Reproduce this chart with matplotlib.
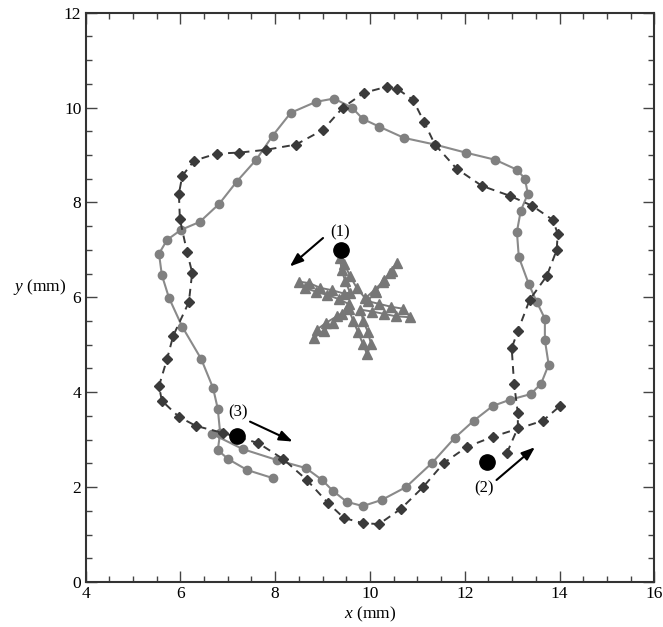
import matplotlib
matplotlib.use("Agg")
import matplotlib.pyplot as plt
from matplotlib.ticker import MultipleLocator

plt.rcParams['font.family'] = ['Liberation Serif', 'DejaVu Serif']
plt.rcParams['mathtext.fontset'] = 'custom'
plt.rcParams['mathtext.it'] = 'Liberation Serif:italic'
plt.rcParams['mathtext.rm'] = 'Liberation Serif'

# Path (3): grey circles, solid line
circ_x = [6.67, 7.32, 8.04, 8.65, 8.99, 9.22, 9.51, 9.85, 10.25, 10.76, 11.31, 11.79,
          12.19, 12.59, 12.95, 13.39, 13.61, 13.77, 13.69, 13.69, 13.52, 13.35, 13.14,
          13.10, 13.18, 13.33, 13.27, 13.10, 12.64, 12.02, 11.37, 10.72, 10.19, 9.85,
          9.62, 9.24, 8.86, 8.33, 7.95, 7.60, 7.19, 6.82, 6.41, 6.01, 5.72, 5.55, 5.61,
          5.76, 6.04, 6.44, 6.69, 6.79, 6.84, 6.79, 7.01, 7.41, 7.95]
circ_y = [3.12, 2.80, 2.57, 2.40, 2.15, 1.92, 1.69, 1.60, 1.73, 2.00, 2.51, 3.04,
          3.40, 3.71, 3.84, 3.96, 4.18, 4.58, 5.10, 5.55, 5.90, 6.28, 6.85,
          7.38, 7.82, 8.18, 8.50, 8.69, 8.90, 9.05, 9.22, 9.36, 9.60, 9.76,
          10.00, 10.19, 10.12, 9.89, 9.41, 8.90, 8.44, 7.97, 7.59, 7.42, 7.21, 6.92, 6.47,
          5.99, 5.38, 4.70, 4.09, 3.65, 3.14, 2.78, 2.59, 2.36, 2.19]

# Path (2): dark diamonds, dashed line
diam_x = [12.89, 13.12, 13.12, 13.04, 12.99, 13.12, 13.37, 13.73, 13.94, 13.96, 13.86,
          13.42, 12.95, 12.36, 11.83, 11.37, 11.14, 10.91, 10.57, 10.36, 9.87, 9.43,
          9.01, 8.44, 7.81, 7.24, 6.77, 6.29, 6.04, 5.97, 5.99, 6.14, 6.25, 6.18,
          5.85, 5.72, 5.55, 5.61, 5.97, 6.33, 6.90, 7.64, 8.17, 8.67, 9.11, 9.45,
          9.85, 10.19, 10.65, 11.12, 11.56, 12.05, 12.59, 13.65, 14.01]
diam_y = [2.72, 3.25, 3.56, 4.18, 4.93, 5.29, 5.95, 6.45, 7.00, 7.34, 7.63,
          7.93, 8.14, 8.35, 8.71, 9.22, 9.70, 10.16, 10.40, 10.44, 10.31, 10.00,
          9.53, 9.22, 9.11, 9.05, 9.03, 8.88, 8.56, 8.18, 7.65, 6.96, 6.52, 5.90,
          5.19, 4.70, 4.13, 3.82, 3.48, 3.29, 3.14, 2.93, 2.59, 2.15, 1.67, 1.35,
          1.24, 1.22, 1.54, 2.00, 2.51, 2.85, 3.06, 3.40, 3.71]

# Path (1): grey triangles, star pattern
tri_x = [9.37, 9.40, 9.48, 9.58, 9.45, 9.20, 8.95, 8.72, 8.50, 8.62, 8.86, 9.10,
         9.35, 9.55, 9.40, 9.22, 9.03, 8.82, 8.88, 9.07, 9.30, 9.55, 9.65, 9.75,
         9.85, 9.94, 10.02, 9.96, 9.86, 9.80, 10.05, 10.30, 10.55, 10.85, 10.70,
         10.45, 10.20, 9.95, 10.12, 10.27, 10.42, 10.56, 10.46, 10.30, 10.10, 9.90,
         9.72, 9.58, 9.46]
tri_y = [6.82, 6.58, 6.34, 6.10, 6.08, 6.15, 6.20, 6.30, 6.33, 6.20, 6.12, 6.05,
         5.96, 5.86, 5.64, 5.45, 5.30, 5.15, 5.32, 5.46, 5.60, 5.75, 5.50, 5.26,
         5.02, 4.80, 5.02, 5.26, 5.50, 5.74, 5.70, 5.65, 5.60, 5.58, 5.76,
         5.80, 5.86, 5.92, 6.12, 6.32, 6.52, 6.72, 6.55, 6.36, 6.16, 5.98,
         6.20, 6.45, 6.70]

start_x = [9.38, 12.46, 7.19]
start_y = [7.00, 2.52, 3.08]
labels = ['(1)', '(2)', '(3)']
label_x = [9.37, 12.40, 7.22]
label_y = [7.36, 1.98, 3.58]
arrow_from_x = [9.01, 12.67, 7.47]
arrow_from_y = [7.25, 2.15, 3.38]
arrow_to_x = [8.31, 13.48, 8.37]
arrow_to_y = [6.65, 2.84, 2.96]

fig = plt.figure(figsize=(6.63, 6.27), dpi=100)
ax = fig.add_axes([0.129, 0.0718, 0.858, 0.908])

ax.plot(circ_x, circ_y, '-', color='#8a8a8a', lw=1.5, marker='o', ms=6,
        mfc='#808080', mec='#808080', zorder=3)
ax.plot(diam_x, diam_y, '--', color='#3a3a3a', lw=1.4, dashes=(4, 3), marker='D', ms=4.8,
        mfc='#3a3a3a', mec='#3a3a3a', zorder=4)
ax.plot(tri_x, tri_y, '-', color='#7a7a7a', lw=1.4, marker='^', ms=7,
        mfc='#777777', mec='#777777', zorder=3)

ax.plot(start_x, start_y, 'o', color='black', ms=11, zorder=6)
for lx, ly, t in zip(label_x, label_y, labels):
    ax.text(lx, ly, t, ha='center', va='center', fontsize=12, zorder=7)
for fx, fy, tx, ty in zip(arrow_from_x, arrow_from_y, arrow_to_x, arrow_to_y):
    ax.annotate('', xy=(tx, ty), xytext=(fx, fy),
                arrowprops=dict(arrowstyle='-|>,head_length=0.8,head_width=0.3',
                                color='black', lw=1.5, shrinkA=0, shrinkB=0), zorder=7)

ax.set_xlim(4, 16)
ax.set_ylim(0, 12)
ax.xaxis.set_major_locator(MultipleLocator(2))
ax.xaxis.set_minor_locator(MultipleLocator(0.5))
ax.yaxis.set_major_locator(MultipleLocator(2))
ax.yaxis.set_minor_locator(MultipleLocator(0.5))
ax.tick_params(which='both', direction='in', top=True, right=True, width=1.0,
               labelsize=12.5, color='#444444')
ax.tick_params(which='major', length=8, pad=3)
ax.tick_params(which='minor', length=4)
for s in ax.spines.values():
    s.set_linewidth(1.5)
    s.set_color('#333333')

ax.set_xlabel('$x$ (mm)', fontsize=12.5, labelpad=2)
ax.set_ylabel('$y$ (mm)', fontsize=12.5, rotation=0, labelpad=4)
ax.yaxis.set_label_coords(-0.08, 0.5)

fig.savefig('out.png', dpi=100)
